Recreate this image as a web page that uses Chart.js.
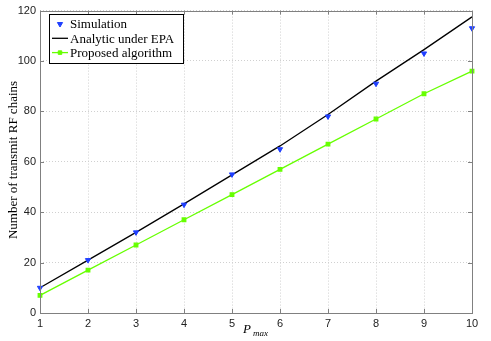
<!DOCTYPE html>
<html>
<head>
<meta charset="UTF-8" />
<script src="https://cdn.jsdelivr.net/npm/chart.js"></script>
<style>
  body { margin: 0; background: #fff; }
</style>
</head>
<body>
<canvas id="c" width="491" height="341"></canvas>
<script>
const pmax = [1, 2, 3, 4, 5, 6, 7, 8, 9, 10];
const simulation = [10, 21, 32, 43, 55, 65, 78, 91, 103, 113];
const analytic = [10, 21, 32, 43.3, 54.8, 66.3, 78.8, 92, 104.5, 117.5];
const proposed = [7, 17, 27, 37, 47, 57, 67, 77, 87, 96];
const yTicks = [0, 20, 40, 60, 80, 100, 120];

const serif = '"Liberation Serif", "DejaVu Serif", serif';
const sans = '"Liberation Sans", Arial, sans-serif';

// axis box, inward ticks, axis titles and legend
const decor = {
  id: 'decor',
  afterDraw(chart) {
    const ctx = chart.ctx;
    const a = chart.chartArea;
    const xs = chart.scales.x, ys = chart.scales.y;
    ctx.save();
    ctx.strokeStyle = '#808080';
    ctx.lineWidth = 1;
    ctx.beginPath();
    pmax.forEach(v => {
      const px = Math.round(xs.getPixelForValue(v)) + 0.5;
      ctx.moveTo(px, a.bottom); ctx.lineTo(px, a.bottom - 4);
      ctx.moveTo(px, a.top); ctx.lineTo(px, a.top + 4);
    });
    yTicks.forEach(v => {
      const py = Math.round(ys.getPixelForValue(v)) + 0.5;
      ctx.moveTo(a.left, py); ctx.lineTo(a.left + 4, py);
      ctx.moveTo(a.right, py); ctx.lineTo(a.right - 4, py);
    });
    ctx.stroke();
    ctx.strokeRect(Math.round(a.left) + 0.5, Math.round(a.top) + 0.5,
      Math.round(a.right - a.left), Math.round(a.bottom - a.top));

    // x title: P_max
    ctx.fillStyle = '#000';
    ctx.textBaseline = 'alphabetic';
    ctx.font = 'italic 13px ' + serif;
    ctx.textAlign = 'left';
    ctx.fillText('P', 243, 333);
    ctx.font = 'italic 9px ' + serif;
    ctx.fillText('max', 253, 336);

    // y title
    ctx.save();
    ctx.translate(14, 160);
    ctx.rotate(-Math.PI / 2);
    ctx.font = '13px ' + serif;
    ctx.textAlign = 'center';
    ctx.textBaseline = 'middle';
    ctx.fillText('Number of transmit RF chains', 0, 0);
    ctx.restore();

    // legend
    const lx = 49.5, ly = 14.5, lw = 134, lh = 49;
    ctx.fillStyle = '#fff';
    ctx.fillRect(lx, ly, lw, lh);
    ctx.strokeStyle = '#000';
    ctx.strokeRect(lx, ly, lw, lh);
    chart.data.datasets.forEach((ds, i) => {
      const cy = 24 + i * 14.3;
      if (ds.showLine !== false) {
        ctx.strokeStyle = ds.borderColor;
        ctx.lineWidth = 1.3;
        ctx.beginPath();
        ctx.moveTo(52, cy); ctx.lineTo(68, cy);
        ctx.stroke();
      }
      if (ds.pointRadius > 0) {
        ctx.fillStyle = ds.pointBackgroundColor;
        ctx.strokeStyle = ds.pointBorderColor;
        ctx.lineWidth = 1;
        Chart.helpers.drawPoint(ctx, {
          pointStyle: ds.pointStyle, rotation: ds.pointRotation || 0,
          radius: ds.pointRadius, borderWidth: 1
        }, 60, cy);
      }
      ctx.fillStyle = '#000';
      ctx.font = '13px ' + serif;
      ctx.textAlign = 'left';
      ctx.textBaseline = 'middle';
      ctx.fillText(ds.label, 70, cy + 1);
    });
    ctx.restore();
  }
};

new Chart(document.getElementById('c'), {
  type: 'line',
  data: {
    labels: pmax,
    datasets: [
      {
        label: 'Simulation',
        data: simulation,
        showLine: false,
        borderColor: '#1f3fff',
        pointStyle: 'triangle',
        pointRotation: 180,
        pointRadius: 3,
        pointBackgroundColor: '#1f3fff',
        pointBorderColor: '#1f3fff',
        clip: false,
        order: 0
      },
      {
        label: 'Analytic under EPA',
        data: analytic,
        borderColor: '#000',
        borderWidth: 1.3,
        pointRadius: 0,
        tension: 0,
        clip: false,
        order: 1
      },
      {
        label: 'Proposed algorithm',
        data: proposed,
        borderColor: '#66ff00',
        borderWidth: 1.3,
        pointStyle: 'rect',
        pointRadius: 2.5,
        pointBackgroundColor: '#66ff00',
        pointBorderColor: '#66ff00',
        tension: 0,
        clip: false,
        order: 2
      }
    ]
  },
  options: {
    responsive: false,
    animation: false,
    layout: { padding: { left: 0, right: 19, top: 9, bottom: 0 } },
    plugins: { legend: { display: false }, tooltip: { enabled: false } },
    scales: {
      x: {
        type: 'linear',
        min: 1, max: 10,
        afterFit(s) { s.height = 28; },
        afterBuildTicks(s) { s.ticks = pmax.map(v => ({ value: v })); },
        grid: { color: '#d0d0d0', drawTicks: false },
        border: { display: false, dash: [1, 2] },
        ticks: { color: '#222', font: { family: sans, size: 11 }, padding: 4, maxRotation: 0 }
      },
      y: {
        min: 0, max: 120,
        afterFit(s) { s.width = 40; },
        afterBuildTicks(s) { s.ticks = yTicks.map(v => ({ value: v })); },
        grid: { color: '#d0d0d0', drawTicks: false },
        border: { display: false, dash: [1, 2] },
        ticks: { color: '#222', font: { family: sans, size: 11 }, padding: 4 }
      }
    }
  },
  plugins: [decor]
});
</script>
</body>
</html>
